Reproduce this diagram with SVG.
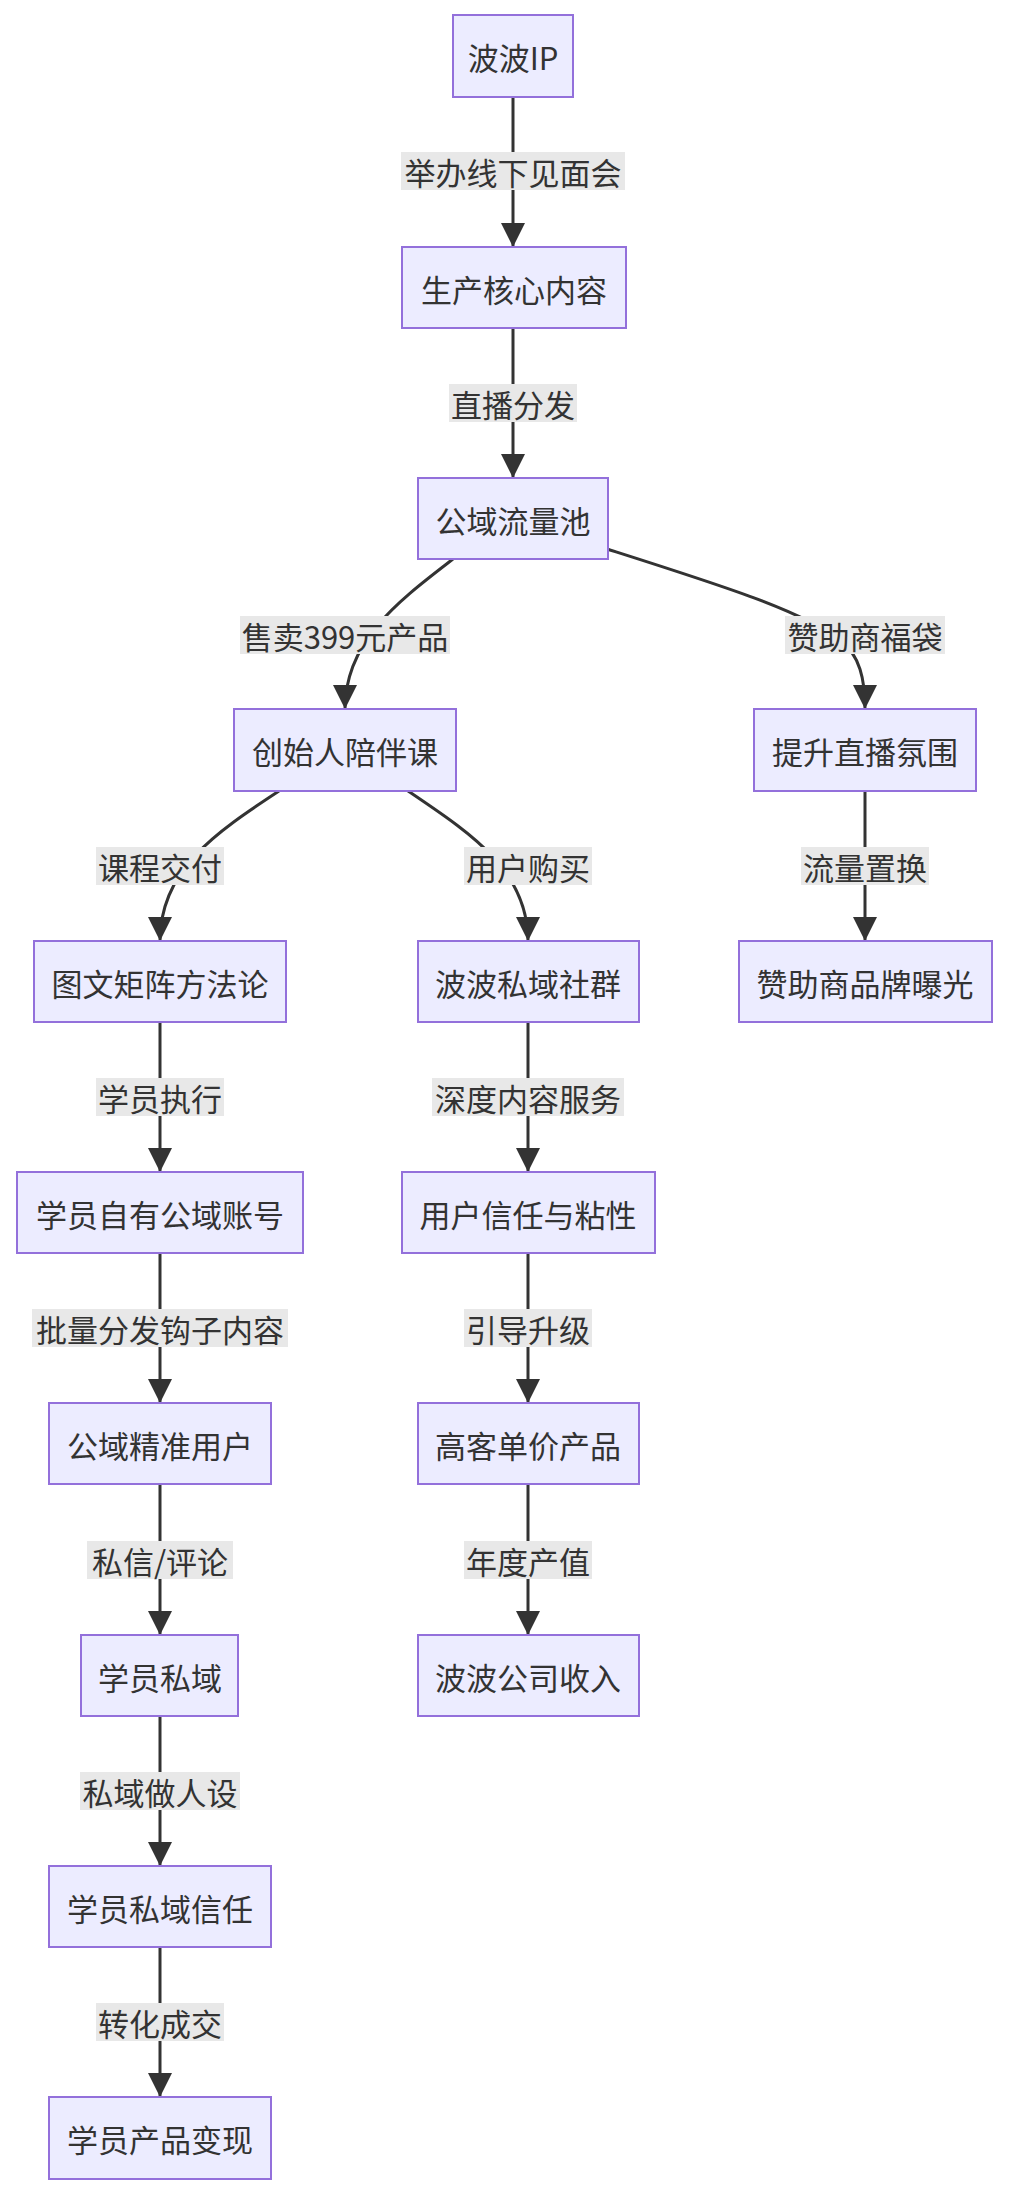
<svg xmlns="http://www.w3.org/2000/svg" width="1012" height="2206" viewBox="0 0 1012 2206">
<style>
.n rect{fill:#ECECFF;stroke:#9370DB;stroke-width:2}
text{font-family:"Noto Sans CJK SC","Noto Sans",sans-serif;font-size:31px;fill:#333;text-anchor:middle;dominant-baseline:central}
.e path{fill:none;stroke:#333;stroke-width:3;marker-end:url(#a)}
.l rect{fill:#e8e8e8}
</style>
<defs><marker id="a" viewBox="0 0 10 10" refX="10" refY="5" markerWidth="24" markerHeight="26" markerUnits="userSpaceOnUse" orient="auto"><path d="M0,0L10,5L0,10z" fill="#333"/></marker></defs>
<rect width="1012" height="2206" fill="#fff"/>
<g class="e">
<path d="M513,97V247"/>
<path d="M513,328V478"/>
<path d="M453,559C400,600 345,640 345,709"/>
<path d="M607,549C720,585 800,610 840,640C860,655 865,680 865,709"/>
<path d="M279,791C215,833 160,870 160,941"/>
<path d="M408,791C470,833 528,870 528,941"/>
<path d="M865,791V941"/>
<path d="M160,1022V1172"/>
<path d="M528,1022V1172"/>
<path d="M160,1253V1403"/>
<path d="M528,1253V1403"/>
<path d="M160,1484V1635"/>
<path d="M528,1484V1635"/>
<path d="M160,1716V1866"/>
<path d="M160,1947V2097"/>
</g>
<g class="l">
<rect x="401" y="152" width="224" height="38"/><text x="513" y="171">举办线下见面会</text>
<rect x="449" y="384" width="128" height="38"/><text x="513" y="403">直播分发</text>
<rect x="240" y="616" width="210" height="38"/><text x="345" y="635">售卖399元产品</text>
<rect x="785" y="616" width="160" height="38"/><text x="865" y="635">赞助商福袋</text>
<rect x="96" y="847" width="128" height="38"/><text x="160" y="866">课程交付</text>
<rect x="464" y="847" width="128" height="38"/><text x="528" y="866">用户购买</text>
<rect x="801" y="847" width="128" height="38"/><text x="865" y="866">流量置换</text>
<rect x="96" y="1078" width="128" height="38"/><text x="160" y="1097">学员执行</text>
<rect x="432" y="1078" width="192" height="38"/><text x="528" y="1097">深度内容服务</text>
<rect x="32" y="1309" width="256" height="38"/><text x="160" y="1328">批量分发钩子内容</text>
<rect x="464" y="1309" width="128" height="38"/><text x="528" y="1328">引导升级</text>
<rect x="87" y="1541" width="146" height="38"/><text x="160" y="1560">私信/评论</text>
<rect x="464" y="1541" width="128" height="38"/><text x="528" y="1560">年度产值</text>
<rect x="80" y="1772" width="160" height="38"/><text x="160" y="1791">私域做人设</text>
<rect x="96" y="2003" width="128" height="38"/><text x="160" y="2022">转化成交</text>
</g>
<g id="n1" class="n"><rect x="453" y="15" width="120" height="82"/><text x="513" y="56">波波IP</text></g>
<g id="n2" class="n"><rect x="402" y="247" width="224" height="81"/><text x="514" y="288">生产核心内容</text></g>
<g id="n3" class="n"><rect x="418" y="478" width="190" height="81"/><text x="513" y="519">公域流量池</text></g>
<g id="n4" class="n"><rect x="234" y="709" width="222" height="82"/><text x="345" y="750">创始人陪伴课</text></g>
<g id="n5" class="n"><rect x="754" y="709" width="222" height="82"/><text x="865" y="750">提升直播氛围</text></g>
<g id="n6" class="n"><rect x="34" y="941" width="252" height="81"/><text x="160" y="982">图文矩阵方法论</text></g>
<g id="n7" class="n"><rect x="418" y="941" width="221" height="81"/><text x="528" y="982">波波私域社群</text></g>
<g id="n8" class="n"><rect x="739" y="941" width="253" height="81"/><text x="865" y="982">赞助商品牌曝光</text></g>
<g id="n9" class="n"><rect x="17" y="1172" width="286" height="81"/><text x="160" y="1213">学员自有公域账号</text></g>
<g id="n10" class="n"><rect x="402" y="1172" width="253" height="81"/><text x="528" y="1213">用户信任与粘性</text></g>
<g id="n11" class="n"><rect x="49" y="1403" width="222" height="81"/><text x="160" y="1444">公域精准用户</text></g>
<g id="n12" class="n"><rect x="418" y="1403" width="221" height="81"/><text x="528" y="1444">高客单价产品</text></g>
<g id="n13" class="n"><rect x="81" y="1635" width="157" height="81"/><text x="160" y="1676">学员私域</text></g>
<g id="n14" class="n"><rect x="418" y="1635" width="221" height="81"/><text x="528" y="1676">波波公司收入</text></g>
<g id="n15" class="n"><rect x="49" y="1866" width="222" height="81"/><text x="160" y="1907">学员私域信任</text></g>
<g id="n16" class="n"><rect x="49" y="2097" width="222" height="82"/><text x="160" y="2138">学员产品变现</text></g>
</svg>
